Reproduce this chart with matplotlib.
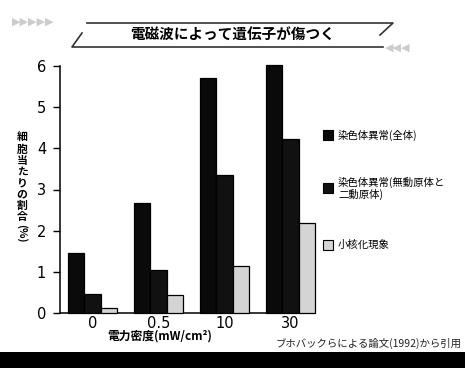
import numpy as np
import matplotlib
matplotlib.use("Agg")
import matplotlib.pyplot as plt
from matplotlib.patches import Rectangle
from matplotlib.lines import Line2D

plt.rcParams['font.family'] = ['Noto Sans CJK JP', 'DejaVu Sans']

# データ
groups = ["0", "0.5", "10", "30"]
total_abn = [1.45, 2.68, 5.72, 6.03]      # 染色体異常(全体)
acentric = [0.45, 1.05, 3.35, 4.22]       # 染色体異常(無動原体と二動原体)
micronuc = [0.13, 0.43, 1.15, 2.18]       # 小核化現象
series_labels = ["染色体異常(全体)", "染色体異常(無動原体と\n二動原体)", "小核化現象"]
yticks = [0, 1, 2, 3, 4, 5, 6]

W, H = 465, 368
fig = plt.figure(figsize=(W / 100, H / 100), dpi=100)
fig.patch.set_facecolor("white")

ax = fig.add_axes([60 / W, 1 - 313 / H, 255 / W, 247 / H])
x = np.arange(len(groups))
bw = 0.25
colors = ["#0a0a0a", "#111111", "#d4d4d4"]
for i, vals in enumerate([total_abn, acentric, micronuc]):
    ax.bar(x - bw + i * bw, vals, width=bw, color=colors[i],
           edgecolor="black", linewidth=0.9, clip_on=False, zorder=3)

ax.set_xlim(-0.49, 3.375)
ax.set_ylim(0, 6)
ax.set_yticks(yticks)
ax.set_xticks(x)
ax.set_xticklabels(groups, fontsize=10.5, family="DejaVu Sans")
ax.set_yticklabels([str(t) for t in yticks], fontsize=10.5, family="DejaVu Sans")
ax.tick_params(axis="x", length=0, pad=2)
ax.tick_params(axis="y", length=5, width=1, direction="out", pad=5)
for s in ["top", "right"]:
    ax.spines[s].set_visible(False)
ax.spines["left"].set_linewidth(1.1)
ax.spines["bottom"].set_linewidth(1.1)
ax.set_facecolor("none")

tf = fig.transFigure
def fx(px):
    return px / W
def fy(py):
    return 1 - py / H

# 軸ラベル
fig.text(160 / W, 1 - 336 / H, "電力密度(mW/cm²)", fontsize=8.5, fontweight="bold",
         ha="center", va="center")
ylab = "細胞当たりの割合"
for k, ch in enumerate(ylab):
    fig.text(fx(22), fy(138 + k * 11.3), ch, fontsize=7.8, fontweight="bold",
             ha="center", va="center")
fig.text(fx(22), fy(233), "(%)", fontsize=7.8, fontweight="bold",
         rotation=270, ha="center", va="center")

# 凡例
leg_y = [135, 188, 245]
for lab, c, yy in zip(series_labels, colors, leg_y):
    fig.patches.append(Rectangle((323 / W, 1 - (yy + 5) / H), 10 / W, 10 / H,
                                 transform=tf, facecolor=c,
                                 edgecolor="black", linewidth=0.8))
    fig.text(338 / W, 1 - yy / H, lab, fontsize=7.5, ha="left", va="center",
             linespacing=1.1)

# タイトル帯
fig.lines.append(Line2D([fx(87), fx(393), fx(380)], [fy(23), fy(23), fy(35)],
                        transform=tf, color="#333333", linewidth=1.2))
fig.lines.append(Line2D([fx(82), fx(72), fx(383)], [fy(33), fy(47), fy(47)],
                        transform=tf, color="#333333", linewidth=1.2))
fig.text(fx(233), fy(35), "電磁波によって遺伝子が傷つく", fontsize=10.5,
         fontweight="bold", ha="center", va="center")
fig.text(fx(12), fy(22), "▶▶▶▶▶", fontsize=8, color="#cccccc",
         ha="left", va="center", family="DejaVu Sans")
fig.text(fx(385), fy(48), "◀◀◀", fontsize=8, color="#cccccc",
         ha="left", va="center", family="DejaVu Sans")

# 出典
fig.text(fx(462), fy(343), "ブホバックらによる論文(1992)から引用", fontsize=7.5,
         ha="right", va="center", color="#222222")

# 下の黒帯
fig.patches.append(Rectangle((0, 0), 1, 16 / H, transform=tf,
                             facecolor="black", edgecolor="none"))

fig.savefig("out.png", dpi=100)
